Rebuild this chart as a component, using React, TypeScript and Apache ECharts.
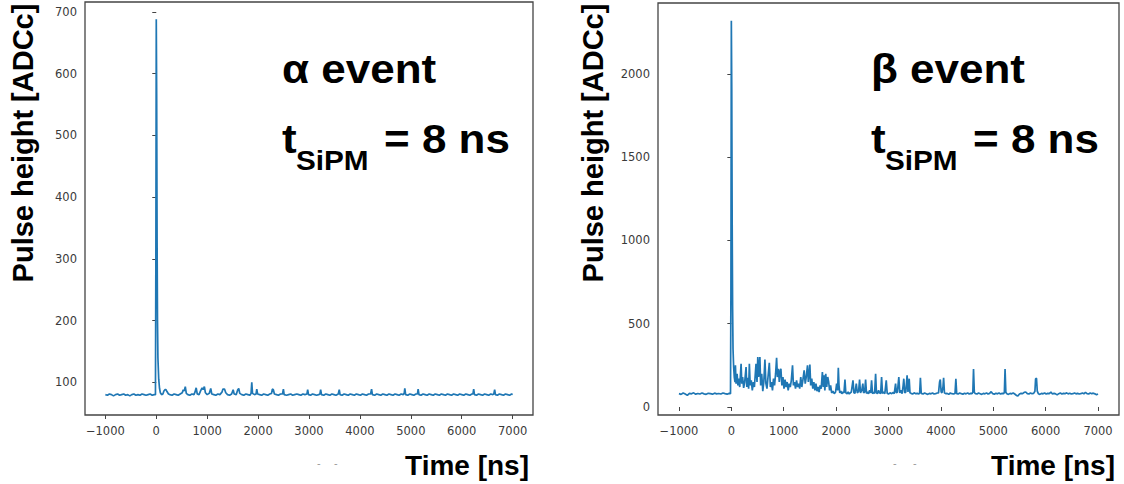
import React, { useEffect, useRef } from "react";
import * as echarts from "echarts";

// time [ns], pulse height [ADCc]
const alphaPulse: [number, number][] = [
  [-1000, 80], [-960, 79], [-920, 81], [-880, 80], [-840, 78], [-800, 80], [-760, 81], [-720, 79], [-680, 80], [-640, 81],
  [-600, 79], [-560, 80], [-520, 78], [-480, 80], [-440, 81], [-400, 79], [-360, 80], [-320, 79], [-280, 81], [-240, 80],
  [-200, 79], [-160, 80], [-120, 81], [-80, 79], [-40, 80], [-16, 80], [-8, 300], [0, 688], [8, 560], [16, 330],
  [24, 200], [32, 140], [48, 105], [64, 90], [80, 83], [104, 80], [130, 81], [150, 86], [170, 88], [190, 88],
  [210, 85], [240, 81], [270, 80], [310, 79], [350, 81], [390, 80], [430, 79], [470, 81], [510, 83], [530, 88],
  [550, 86], [570, 93], [590, 82], [620, 80], [660, 79], [700, 81], [740, 80], [760, 84], [784, 91], [805, 81],
  [840, 80], [870, 86], [900, 91], [920, 88], [945, 93], [965, 83], [1000, 80], [1040, 82], [1070, 90], [1090, 81],
  [1130, 80], [1170, 79], [1210, 81], [1250, 80], [1290, 84], [1310, 89], [1340, 89], [1365, 83], [1400, 80], [1440, 79],
  [1480, 81], [1510, 88], [1530, 81], [1570, 80], [1600, 88], [1620, 90], [1640, 82], [1680, 80], [1720, 79], [1760, 81],
  [1800, 80], [1840, 79], [1862, 82], [1876, 100], [1890, 82], [1930, 80], [1960, 81], [1974, 89], [1990, 81], [2030, 80],
  [2070, 79], [2110, 81], [2150, 80], [2190, 79], [2230, 81], [2265, 82], [2280, 89], [2300, 88], [2320, 81], [2360, 80],
  [2400, 79], [2440, 81], [2480, 81], [2497, 89], [2512, 80], [2560, 79], [2600, 80], [2640, 81], [2680, 79], [2720, 80],
  [2760, 81], [2800, 80], [2840, 79], [2880, 81], [2920, 80], [2960, 81], [2974, 88], [2990, 80], [3030, 79], [3070, 81],
  [3110, 80], [3150, 79], [3190, 80], [3215, 81], [3229, 88], [3245, 80], [3290, 79], [3330, 81], [3370, 80], [3410, 79],
  [3450, 81], [3490, 80], [3530, 79], [3575, 81], [3594, 88], [3610, 80], [3650, 79], [3690, 81], [3730, 80], [3770, 79],
  [3810, 81], [3850, 80], [3890, 79], [3930, 81], [3970, 80], [4010, 79], [4050, 81], [4090, 80], [4130, 79], [4170, 81],
  [4210, 81], [4229, 89], [4245, 80], [4290, 79], [4330, 81], [4370, 80], [4410, 79], [4450, 81], [4490, 80], [4530, 79],
  [4570, 81], [4610, 80], [4650, 79], [4690, 81], [4730, 80], [4770, 79], [4810, 81], [4850, 80], [4870, 82], [4882, 90],
  [4898, 80], [4940, 79], [4980, 81], [5020, 80], [5060, 79], [5100, 81], [5130, 81], [5144, 89], [5160, 80], [5200, 79],
  [5240, 81], [5280, 80], [5320, 79], [5360, 81], [5400, 80], [5440, 79], [5480, 81], [5520, 80], [5560, 79], [5600, 81],
  [5640, 80], [5680, 79], [5720, 81], [5760, 80], [5800, 79], [5840, 81], [5880, 80], [5920, 79], [5960, 81], [6000, 80],
  [6040, 79], [6080, 81], [6120, 80], [6160, 79], [6200, 81], [6220, 81], [6235, 89], [6250, 80], [6290, 79], [6330, 81],
  [6370, 80], [6410, 79], [6450, 81], [6490, 80], [6530, 79], [6570, 81], [6610, 80], [6630, 81], [6647, 88], [6662, 80],
  [6700, 79], [6740, 81], [6780, 80], [6820, 79], [6860, 81], [6900, 80], [6940, 79], [6980, 81], [7000, 80],
];

const betaPulse: [number, number][] = [
  [-1000, 80], [-960, 76], [-920, 84], [-880, 78], [-840, 70], [-800, 82], [-760, 79], [-720, 85], [-680, 77], [-640, 81],
  [-600, 78], [-560, 84], [-520, 79], [-480, 76], [-440, 82], [-400, 80], [-360, 77], [-320, 83], [-280, 79], [-240, 81],
  [-200, 78], [-160, 84], [-120, 80], [-80, 77], [-40, 82], [-16, 80], [-8, 700], [0, 2320], [8, 1900], [16, 1100],
  [24, 600], [32, 350], [44, 240], [56, 180], [70, 150], [78, 250], [90, 140], [110, 200], [125, 130], [140, 170],
  [160, 120], [186, 260], [200, 140], [215, 180], [235, 115], [255, 150], [281, 240], [295, 120], [315, 175], [330, 110],
  [344, 260], [360, 130], [380, 160], [400, 100], [420, 150], [440, 120], [471, 260], [490, 150], [505, 300], [520, 180],
  [545, 300], [560, 130], [580, 200], [600, 95], [620, 150], [641, 285], [660, 140], [680, 110], [700, 180], [725, 265],
  [745, 120], [765, 150], [785, 100], [805, 170], [825, 130], [845, 200], [864, 295], [880, 180], [900, 230], [915, 150],
  [930, 210], [946, 230], [965, 130], [985, 180], [1005, 110], [1025, 165], [1045, 120], [1065, 150], [1085, 100], [1105, 140],
  [1125, 120], [1145, 160], [1168, 250], [1185, 130], [1205, 150], [1225, 110], [1245, 160], [1265, 120], [1285, 140], [1305, 110],
  [1325, 180], [1345, 120], [1365, 160], [1390, 220], [1410, 140], [1430, 180], [1454, 250], [1470, 150], [1485, 200], [1499, 255],
  [1515, 130], [1535, 170], [1555, 110], [1575, 150], [1595, 100], [1615, 140], [1635, 95], [1655, 120], [1675, 90], [1695, 130],
  [1715, 110], [1738, 210], [1755, 120], [1770, 190], [1785, 100], [1802, 200], [1820, 120], [1840, 180], [1858, 150], [1875, 100],
  [1895, 130], [1915, 85], [1940, 95], [1965, 80], [1990, 90], [2010, 140], [2030, 100], [2042, 235], [2055, 130], [2070, 85],
  [2090, 95], [2110, 80], [2130, 90], [2150, 85], [2169, 165], [2185, 85], [2210, 80], [2230, 90], [2250, 78], [2270, 85],
  [2290, 90], [2322, 160], [2340, 85], [2360, 82], [2385, 140], [2405, 85], [2430, 95], [2448, 165], [2465, 85], [2490, 100],
  [2510, 140], [2525, 85], [2545, 90], [2563, 165], [2580, 82], [2600, 90], [2620, 80], [2640, 100], [2660, 85], [2677, 160],
  [2695, 80], [2715, 88], [2735, 82], [2754, 200], [2770, 85], [2790, 80], [2810, 100], [2830, 85], [2850, 80], [2868, 180],
  [2885, 82], [2910, 90], [2930, 80], [2957, 160], [2975, 82], [3000, 78], [3030, 85], [3060, 80], [3090, 88], [3110, 80],
  [3135, 140], [3150, 85], [3170, 90], [3197, 180], [3215, 85], [3240, 100], [3260, 80], [3280, 130], [3292, 170], [3310, 85],
  [3330, 90], [3355, 190], [3372, 90], [3395, 170], [3410, 85], [3430, 82], [3460, 78], [3490, 85], [3520, 80], [3550, 82],
  [3580, 78], [3595, 85], [3609, 175], [3625, 82], [3660, 78], [3690, 84], [3720, 80], [3750, 76], [3780, 82], [3810, 79],
  [3840, 84], [3870, 78], [3900, 80], [3930, 84], [3955, 85], [3975, 150], [3989, 165], [4005, 90], [4020, 85], [4040, 120],
  [4052, 175], [4068, 85], [4090, 80], [4120, 82], [4150, 76], [4180, 84], [4210, 80], [4240, 78], [4270, 82], [4286, 170],
  [4302, 80], [4330, 78], [4360, 84], [4390, 80], [4420, 77], [4450, 83], [4480, 79], [4510, 85], [4540, 78], [4570, 82],
  [4595, 80], [4610, 90], [4623, 228], [4638, 88], [4660, 80], [4690, 78], [4720, 84], [4750, 80], [4780, 76], [4810, 82],
  [4840, 79], [4870, 85], [4900, 78], [4930, 82], [4960, 92], [4990, 80], [5020, 77], [5050, 83], [5080, 79], [5110, 84],
  [5140, 78], [5170, 82], [5200, 80], [5212, 90], [5225, 228], [5240, 88], [5260, 80], [5290, 76], [5320, 82], [5350, 79],
  [5380, 84], [5410, 78], [5440, 70], [5470, 66], [5500, 78], [5530, 82], [5560, 80], [5590, 88], [5620, 90], [5650, 80],
  [5680, 78], [5710, 84], [5740, 80], [5770, 82], [5795, 95], [5808, 170], [5825, 172], [5840, 95], [5860, 80], [5890, 76],
  [5920, 82], [5950, 79], [5980, 84], [6010, 78], [6040, 82], [6070, 80], [6100, 90], [6130, 78], [6160, 82], [6190, 79],
  [6220, 73], [6250, 80], [6280, 84], [6310, 78], [6340, 82], [6370, 80], [6400, 85], [6430, 79], [6460, 83], [6490, 78],
  [6520, 80], [6550, 84], [6580, 79], [6610, 82], [6640, 78], [6670, 80], [6700, 84], [6730, 79], [6760, 88], [6790, 80],
  [6820, 78], [6850, 84], [6880, 80], [6910, 83], [6940, 79], [6970, 74], [7000, 78],
];

const xTicks = [-1000, 0, 1000, 2000, 3000, 4000, 5000, 6000, 7000];
const alphaYTicks = [100, 200, 300, 400, 500, 600, 700];
const betaYTicks = [0, 500, 1000, 1500, 2000];

const LINE = "#1f77b4";
const FRAME = "#444";
const TICK_TXT = "#3a3a3a";
const BOLD = "Liberation Sans, Arial, sans-serif";

const fmt = (v: number) => (v < 0 ? "\u2212" + Math.abs(v) : String(v));

function xAxisFor(gridIndex: number) {
  return {
    type: "value",
    gridIndex,
    min: -1400,
    max: 7400,
    axisLine: { show: false },
    splitLine: { show: false },
    axisTick: { show: true, inside: false, length: 4, customValues: xTicks, lineStyle: { color: FRAME, width: 1 } },
    axisLabel: { customValues: xTicks, formatter: fmt, color: TICK_TXT, fontSize: 11.5, fontFamily: "DejaVu Sans", margin: 10 },
  };
}

function yAxisFor(gridIndex: number, min: number, max: number, ticks: number[]) {
  return {
    type: "value",
    gridIndex,
    min,
    max,
    axisLine: { show: false },
    splitLine: { show: false },
    axisTick: { show: true, inside: false, length: 4, customValues: ticks, lineStyle: { color: FRAME, width: 1 } },
    axisLabel: { customValues: ticks, formatter: fmt, color: TICK_TXT, fontSize: 11.5, fontFamily: "DejaVu Sans", margin: 8 },
  };
}

function txt(text: string, x: number, y: number, size: number, opts: any = {}) {
  return {
    type: "text",
    x,
    y,
    rotation: opts.rotation || 0,
    scaleX: opts.scaleX || 1,
    scaleY: opts.scaleY || 1,
    silent: true,
    style: {
      text,
      fontSize: size,
      fontWeight: opts.weight || "bold",
      fontFamily: opts.family || BOLD,
      fill: opts.fill || "#000",
      align: opts.align || "left",
      verticalAlign: "middle",
    },
  };
}

function annotation(dx: number, greek: string) {
  const s = 1.1;
  return [
    txt(greek + " event", 282 + dx, 69, 40, { scaleX: s }),
    txt("t", 282 + dx, 139, 40, { scaleX: s }),
    txt("SiPM", 296 + dx, 160, 27, { scaleX: s }),
    txt("= 8 ns", 384 + dx, 139, 40, { scaleX: s }),
  ];
}

export default function App() {
  const ref = useRef<HTMLDivElement>(null);
  useEffect(() => {
    if (!ref.current) return;
    const chart = echarts.init(ref.current, undefined, { renderer: "svg" });
    const gridBase = {
      show: true,
      borderColor: FRAME,
      borderWidth: 1.3,
      backgroundColor: "transparent",
      containLabel: false,
      outerBoundsMode: "none",
    };
    chart.setOption({
      animation: false,
      backgroundColor: "#fff",
      grid: [
        { ...gridBase, left: 85, top: 2, width: 448, height: 413 },
        { ...gridBase, left: 658, top: 3, width: 461, height: 412 },
      ],
      xAxis: [xAxisFor(0), xAxisFor(1)],
      yAxis: [yAxisFor(0, 47, 716, alphaYTicks), yAxisFor(1, -48, 2426, betaYTicks)],
      series: [
        {
          type: "line",
          xAxisIndex: 0,
          yAxisIndex: 0,
          data: alphaPulse,
          symbol: "none",
          showSymbol: false,
          lineStyle: { color: LINE, width: 1.7 },
        },
        {
          type: "line",
          xAxisIndex: 1,
          yAxisIndex: 1,
          data: betaPulse,
          symbol: "none",
          showSymbol: false,
          lineStyle: { color: LINE, width: 1.7 },
        },
      ],
      graphic: [
        txt("Pulse height [ADCc]", 23, 143, 29, { rotation: Math.PI / 2, align: "center" }),
        txt("Pulse height [ADCc]", 593, 143, 29, { rotation: Math.PI / 2, align: "center" }),
        txt("Time [ns]", 529, 465, 28, { align: "right" }),
        txt("Time [ns]", 1115, 465, 28, { align: "right" }),
        txt("-", 317, 463, 10, { weight: "normal", fill: "#999", family: "DejaVu Sans" }),
        txt("-", 334, 463, 10, { weight: "normal", fill: "#999", family: "DejaVu Sans" }),
        txt("-", 893, 463, 10, { weight: "normal", fill: "#999", family: "DejaVu Sans" }),
        txt("-", 913, 463, 10, { weight: "normal", fill: "#999", family: "DejaVu Sans" }),
        ...annotation(0, "\u03b1"),
        ...annotation(589, "\u03b2"),
      ],
    });
    return () => chart.dispose();
  }, []);
  return (
    <div
      ref={ref}
      style={{ position: "fixed", left: 0, top: 0, width: 1124, height: 484, background: "#fff" }}
    />
  );
}
